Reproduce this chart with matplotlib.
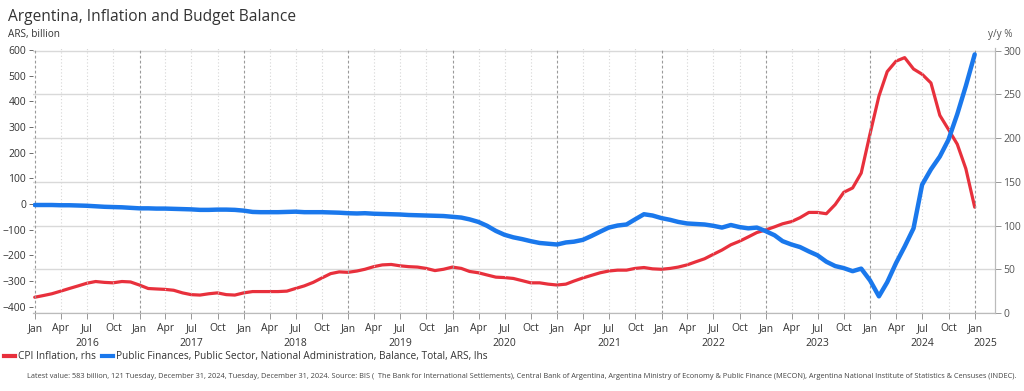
import matplotlib
matplotlib.use("Agg")
import matplotlib.dates as mdates
import matplotlib.pyplot as plt
import matplotlib.transforms as mtrans
import numpy as np
import pandas as pd
from matplotlib.lines import Line2D

# ----------------------------------------------------------------------------
# Data (month-end observations, Dec 2015 .. Dec 2024)
# ----------------------------------------------------------------------------
dates = pd.date_range("2015-12-31", "2024-12-31", freq="ME")

# Public Finances, National Administration balance, ARS billion (lhs)
balance_2015 = [-4]
balance_2016 = [-4, -4, -5, -5, -6, -7, -9, -11, -12, -13, -15, -17]
balance_2017 = [-17, -18, -18, -19, -20, -21, -23, -23, -22, -22, -23, -26]
balance_2018 = [-31, -32, -32, -32, -31, -30, -32, -32, -32, -33, -34, -36]
balance_2019 = [-37, -36, -38, -39, -40, -41, -43, -44, -45, -46, -47, -50]
balance_2020 = [-53, -60, -70, -85, -105, -120, -130, -137, -145, -152, -155, -158]
balance_2021 = [-150, -147, -140, -125, -108, -92, -84, -80, -60, -40, -45, -55]
balance_2022 = [-62, -70, -76, -78, -80, -85, -92, -82, -90, -95, -92, -106]
balance_2023 = [-122, -145, -158, -168, -185, -200, -225, -242, -250, -262, -252, -298]
balance_2024 = [-360, -305, -230, -166, -95, 75, 135, 185, 250, 350, 460, 583]

# CPI inflation, y/y % (rhs)
cpi_2015 = [18]
cpi_2016 = [20, 22, 25, 28, 31, 34, 36, 35, 34.5, 36, 35.5, 32]
cpi_2017 = [28, 27.5, 27, 26, 23, 21, 20.5, 22, 23, 21, 20.5, 23]
cpi_2018 = [24.5, 24.5, 24.5, 24.5, 25, 28, 31, 35, 40, 45, 47, 46.5]
cpi_2019 = [48, 50, 53, 55, 55.5, 54, 53, 52.5, 51, 48.5, 50, 52.5]
cpi_2020 = [51, 47.5, 46, 43.5, 41, 40.5, 39.5, 37, 34.5, 34.5, 33, 32]
cpi_2021 = [33, 36.5, 40, 43, 46, 48, 49, 49, 51, 52, 50.5, 50]
cpi_2022 = [51, 52.5, 55, 58.5, 62, 67, 72, 78, 82, 87, 92, 95]
cpi_2023 = [98.5, 102, 104.5, 109, 115, 115, 113.5, 124, 138, 143, 160, 205]
cpi_2024 = [248, 276, 288, 292, 279, 273, 263, 226, 210, 193, 165, 121]

balance = (balance_2015 + balance_2016 + balance_2017 + balance_2018 + balance_2019
           + balance_2020 + balance_2021 + balance_2022 + balance_2023 + balance_2024)
cpi = (cpi_2015 + cpi_2016 + cpi_2017 + cpi_2018 + cpi_2019
       + cpi_2020 + cpi_2021 + cpi_2022 + cpi_2023 + cpi_2024)

left_ticks = [-400, -300, -200, -100, 0, 100, 200, 300, 400, 500, 600]
right_ticks = [0, 50, 100, 150, 200, 250, 300]
years = [2016, 2017, 2018, 2019, 2020, 2021, 2022, 2023, 2024]

# ----------------------------------------------------------------------------
# Style
# ----------------------------------------------------------------------------
COLOR_RED = "#E8303C"
COLOR_BLUE = "#1A78EC"
COLOR_TEXT = "#333333"
COLOR_GRID = "#D9D9D9"
FONT = "Open Sans"

plt.rcParams["font.family"] = [FONT, "DejaVu Sans"]

fig = plt.figure(figsize=(10.24, 3.91), dpi=100)
ax = fig.add_axes([33 / 1024, 1 - 313 / 391, (995 - 33) / 1024, (313 - 48) / 391])
ax2 = ax.twinx()

x = mdates.date2num(dates)
ax.plot(x, balance, color=COLOR_BLUE, lw=3.2, solid_capstyle="round",
        solid_joinstyle="round", zorder=3)
ax2.plot(x, cpi, color=COLOR_RED, lw=2.3, solid_capstyle="round",
         solid_joinstyle="round", zorder=4)

# axes ranges
x0 = mdates.date2num(pd.Timestamp("2016-01-01")) - 7
x1 = mdates.date2num(pd.Timestamp("2025-01-01")) + 70
ax.set_xlim(x0, x1)
ax.set_ylim(-425, 608)
ax2.set_ylim(0, 303)

ax.set_yticks(left_ticks)
ax2.set_yticks(right_ticks)
ax.tick_params(axis="y", labelsize=7.5, colors="#555555", labelcolor=COLOR_TEXT,
               length=3, width=0.6, pad=2)
ax2.tick_params(axis="y", labelsize=7.5, colors="#888888", labelcolor="#555555",
                length=4, width=0.6, pad=2)

# horizontal grid from right axis
for v in right_ticks:
    ax2.axhline(v, color=COLOR_GRID, lw=1.0, zorder=0)

# vertical grid: dashed at Jan, dotted at other quarters
quarters = pd.date_range("2016-01-01", "2025-01-01", freq="QS")
qx = mdates.date2num(quarters)
for d, xv in zip(quarters, qx):
    if d.month == 1:
        ax.axvline(xv, color="#9A9A9A", lw=0.8, ls=(0, (2.5, 2)), zorder=1)
    else:
        ax.axvline(xv, color="#D6D6D6", lw=0.8, ls=(0, (1, 2)), zorder=1)

month_names = {1: "Jan", 4: "Apr", 7: "Jul", 10: "Oct"}
ax.set_xticks(qx)
ax.set_xticklabels([month_names[d.month] for d in quarters])
ax.tick_params(axis="x", labelsize=7.5, colors="#888888", labelcolor=COLOR_TEXT,
               length=4, width=0.6, pad=3)

trans = mtrans.blended_transform_factory(ax.transData, ax.transAxes)
for yr in years:
    ax.text(mdates.date2num(pd.Timestamp(f"{yr}-07-01")), -0.095, str(yr),
            transform=trans, ha="center", va="top", fontsize=7.5, color=COLOR_TEXT)
ax.text(mdates.date2num(pd.Timestamp("2025-02-05")), -0.095, "2025",
        transform=trans, ha="center", va="top", fontsize=7.5, color=COLOR_TEXT)

for a in (ax, ax2):
    a.spines["top"].set_visible(False)
    a.spines["left"].set_visible(False)
    a.spines["bottom"].set_color("#BBBBBB")
    a.spines["right"].set_color("#BBBBBB")
    a.spines["right"].set_linewidth(0.8)
ax.set_zorder(ax2.get_zorder() + 1)
ax.patch.set_visible(False)

# titles
fig.text(8 / 1024, 1 - 17 / 391, "Argentina, Inflation and Budget Balance",
         fontsize=11.2, color=COLOR_TEXT, ha="left", va="center")
fig.text(8 / 1024, 1 - 34 / 391, "ARS, billion", fontsize=7.2,
         color=COLOR_TEXT, ha="left", va="center")
fig.text(1000 / 1024, 1 - 35 / 391, "y/y %", fontsize=7.2,
         color="#555555", ha="center", va="center")

# legend
handles = [
    Line2D([], [], color=COLOR_RED, lw=3),
    Line2D([], [], color=COLOR_BLUE, lw=3),
]
labels = [
    "CPI Inflation, rhs",
    "Public Finances, Public Sector, National Administration, Balance, Total, ARS, lhs",
]
fig.legend(handles, labels, loc="center left", bbox_to_anchor=(4 / 1024, 1 - 357 / 391),
           ncol=2, frameon=False, fontsize=7.3, handlelength=1.1, handletextpad=0.3,
           columnspacing=0.6, borderaxespad=0, borderpad=0.0, labelcolor=COLOR_TEXT)

fig.text(27 / 1024, 1 - 377 / 391,
         "Latest value: 583 billion, 121 Tuesday, December 31, 2024, Tuesday, December 31, 2024. "
         "Source: BIS (  The Bank for International Settlements), Central Bank of Argentina, "
         "Argentina Ministry of Economy & Public Finance (MECON), Argentina National Institute "
         "of Statistics & Censuses (INDEC).",
         fontsize=5.3, color="#444444", ha="left", va="center")

fig.savefig("out.png", dpi=100)
